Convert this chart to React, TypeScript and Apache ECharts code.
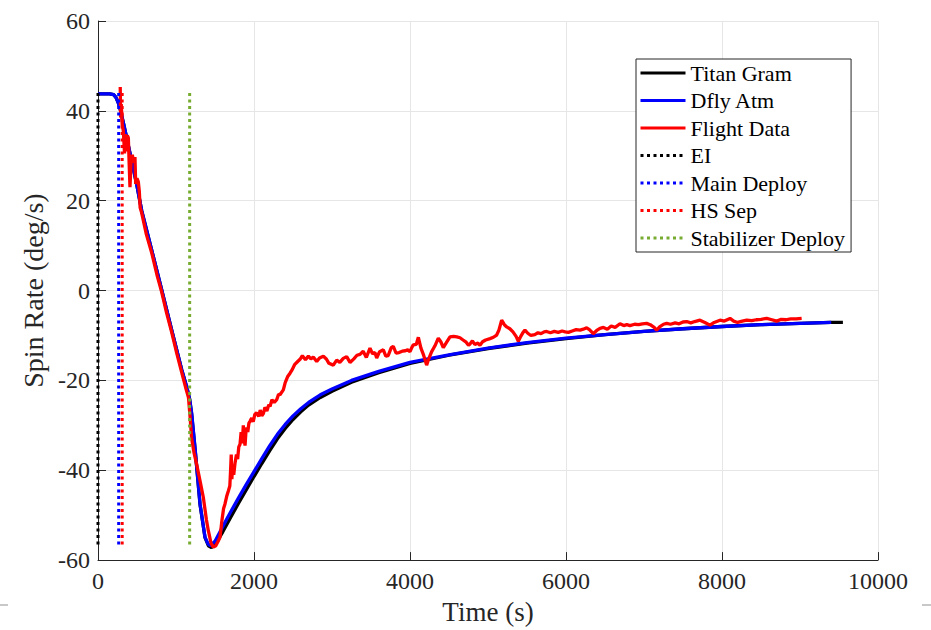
import React, { useEffect, useRef } from "react";
import * as echarts from "echarts";

const xTickLabels = [0, 2000, 4000, 6000, 8000, 10000];
const yTickLabels = [-60, -40, -20, 0, 20, 40, 60];

// Titan Gram (black)
const titanT = [0, 150, 200, 230, 260, 290, 330, 370, 430, 500, 560, 690, 816, 945, 1073, 1140, 1175, 1200, 1244, 1308, 1372, 1415, 1455, 1500, 1600, 1700, 1800, 1900, 2000, 2100, 2200, 2300, 2400, 2500, 2600, 2700, 2850, 3000, 3250, 3600, 4000, 4500, 5000, 5500, 6000, 6500, 7000, 7500, 8000, 8500, 9000, 9400, 9550];
const titanV = [43.8, 43.8, 43.6, 43, 41.8, 40, 37, 33.8, 29, 23.3, 17.8, 8.9, 0.2, -8.8, -17.6, -21.6, -24.2, -27.4, -35.2, -47.6, -55, -56.8, -57.2, -56.6, -53.7, -50.5, -47.4, -44.4, -41.4, -38.5, -35.7, -33, -30.7, -28.7, -27, -25.5, -23.8, -22.4, -20.4, -18.3, -16.2, -14.4, -12.9, -11.7, -10.7, -9.8, -9.1, -8.5, -8.0, -7.6, -7.3, -7.1, -7.1];

// Dfly Atm (blue)
const dflyT = [0, 150, 200, 230, 260, 290, 330, 370, 430, 500, 560, 690, 816, 945, 1073, 1140, 1175, 1200, 1244, 1308, 1372, 1410, 1440, 1500, 1600, 1700, 1800, 1900, 2000, 2100, 2200, 2300, 2400, 2500, 2600, 2700, 2850, 3000, 3250, 3600, 4000, 4500, 5000, 5500, 6000, 6500, 7000, 7500, 8000, 8500, 9000, 9400];
const dflyV = [43.8, 43.8, 43.6, 43, 41.8, 40, 37, 33.8, 29, 23.3, 17.8, 8.9, 0.2, -8.8, -17.6, -21.6, -24.2, -27.2, -35, -47.5, -54.9, -56.4, -56.8, -55.8, -52.5, -49.3, -46.2, -43.2, -40.3, -37.4, -34.6, -32, -29.8, -27.9, -26.3, -24.9, -23.2, -21.9, -20, -18, -16, -14.3, -12.8, -11.6, -10.6, -9.8, -9.1, -8.5, -8.0, -7.6, -7.3, -7.1];

// Flight Data (red)
const flightT = [285, 290, 298, 310, 325, 340, 350, 362, 375, 389, 400, 410, 425, 440, 458, 474, 483, 500, 517, 530, 540, 560, 620, 690, 760, 816, 880, 945, 1010, 1073, 1130, 1160, 1180, 1200, 1230, 1265, 1310, 1350, 1390, 1414, 1450, 1478, 1510, 1540, 1564, 1590, 1610, 1628, 1650, 1671, 1690, 1700, 1708, 1716, 1726, 1740, 1756, 1775, 1790, 1805, 1821, 1835, 1850, 1863, 1875, 1885, 1900, 1920, 1935, 1949, 1970, 1990, 2010, 2034, 2060, 2080, 2100, 2120, 2140, 2165, 2190, 2205, 2230, 2260, 2291, 2315, 2333, 2376, 2400, 2430, 2462, 2490, 2520, 2560, 2590, 2620, 2660, 2697, 2730, 2760, 2804, 2840, 2889, 2930, 2960, 3017, 3060, 3100, 3145, 3188, 3231, 3280, 3320, 3359, 3400, 3440, 3487, 3520, 3550, 3573, 3610, 3658, 3690, 3720, 3760, 3786, 3820, 3860, 3900, 3940, 3970, 4000, 4020, 4042, 4080, 4107, 4140, 4171, 4213, 4240, 4278, 4320, 4363, 4395, 4427, 4470, 4513, 4560, 4600, 4641, 4680, 4720, 4750, 4769, 4800, 4830, 4870, 4897, 4930, 4970, 5026, 5070, 5111, 5140, 5175, 5210, 5240, 5280, 5320, 5360, 5389, 5420, 5450, 5474, 5510, 5550, 5600, 5640, 5680, 5720, 5752, 5800, 5850, 5900, 5950, 5990, 6030, 6080, 6130, 6180, 6222, 6265, 6300, 6350, 6400, 6436, 6480, 6530, 6580, 6630, 6692, 6740, 6780, 6820, 6880, 6930, 6980, 7034, 7080, 7130, 7162, 7200, 7250, 7291, 7340, 7400, 7450, 7500, 7547, 7600, 7650, 7718, 7780, 7846, 7900, 7974, 8030, 8103, 8150, 8200, 8260, 8316, 8380, 8440, 8500, 8573, 8640, 8701, 8760, 8820, 8880, 8950, 9021];
const flightV = [45.3, 38.5, 41.5, 37, 35.5, 30.5, 34.8, 31, 34.5, 34, 28, 23, 29, 30.2, 28.5, 29.7, 23.7, 25, 24.2, 22, 18.5, 17.3, 12.5, 8.3, 3.2, -0.3, -5, -9.3, -14, -18.2, -22, -23.8, -28, -32.8, -36, -38.7, -42.5, -46, -51, -53.4, -56.3, -57.1, -56.8, -55.8, -54.9, -51, -48.5, -47.5, -45.8, -44.6, -43.5, -40, -36.5, -42, -39, -41, -38.5, -36.5, -37.5, -34.8, -34.2, -31.5, -34, -30, -33, -34.5, -30.5, -31.5, -29.5, -29.1, -28.4, -29.2, -27.6, -27.2, -28, -26.6, -27.9, -27.4, -26, -26.8, -25.4, -25.8, -24.3, -24.9, -24.3, -23.1, -23.2, -22.1, -20.5, -19.2, -18.4, -17.6, -16.5, -15.8, -15.3, -14.5, -15.4, -14.6, -15.2, -14.8, -15.8, -15, -14.6, -15.3, -16.2, -16.6, -15.5, -16, -15.1, -14.7, -16, -15.2, -14.4, -14.2, -13.5, -14.9, -12.8, -14.1, -13.8, -15, -13.6, -13.2, -14.6, -14.5, -12.7, -12.4, -13.9, -13.8, -13.5, -13.4, -13.2, -13.6, -12.8, -12.1, -12, -10.4, -12.8, -14.2, -16.6, -15.2, -13.6, -12.3, -10.6, -11.4, -12.7, -11.5, -10.3, -10.2, -10.3, -10.5, -11, -11.5, -12.2, -11.9, -11.2, -12, -11.7, -12.2, -11.4, -11, -10.7, -10.4, -9.9, -8.8, -6.6, -7.6, -8.1, -8.5, -9.2, -10.2, -11.3, -10.2, -9.3, -8.8, -9.5, -10, -9.8, -9.4, -9.6, -9.2, -9.1, -9.4, -9.1, -9.3, -9, -9.2, -9.3, -9, -8.7, -8.8, -8.6, -8.3, -8.7, -9.6, -8.8, -8.4, -8.2, -8.6, -7.9, -8.2, -7.4, -7.8, -7.6, -7.8, -7.5, -7.6, -7.4, -7.3, -7.6, -8.2, -8.8, -8.1, -7.5, -7.3, -7.5, -7.2, -7.4, -7, -6.9, -7.2, -6.9, -6.6, -7.1, -7.7, -7.1, -6.6, -6.8, -6.2, -6.8, -7.1, -6.8, -6.6, -6.7, -6.5, -6.4, -6.2, -6.5, -6.8, -6.4, -6.5, -6.3, -6.3, -6.2];

// Event markers
const eventNames = ["EI", "Main Deploy", "HS Sep", "Stabilizer Deploy"];
const eventTimes = [0, 265, 310, 1175];
const eventColors = ["#000000", "#0000ff", "#ff0000", "#77ac30"];
const eventTop = 44;
const eventBottom = -56.8;

const FONT = "'Liberation Serif', 'DejaVu Serif', serif";

function zip(t: number[], v: number[]) {
  return t.map((x, i) => [x, v[i]]);
}

export default function App() {
  const ref = useRef<HTMLDivElement>(null);
  useEffect(() => {
    if (!ref.current) return;
    const chart = echarts.init(ref.current, null, { renderer: "svg" });
    const solid = (name: string, t: number[], v: number[], color: string) => ({
      name,
      type: "line",
      data: zip(t, v),
      symbol: "none",
      showSymbol: false,
      lineStyle: { color, width: 3.3 },
      itemStyle: { color, opacity: 0 },
      emphasis: { disabled: true },
    });
    const events = eventNames.map((name, i) => ({
      name,
      type: "line",
      data: [
        [eventTimes[i], eventTop],
        [eventTimes[i], eventBottom],
      ],
      symbol: "none",
      showSymbol: false,
      lineStyle: { color: eventColors[i], width: 3, type: [3, 3.5], cap: "butt" },
      itemStyle: { color: eventColors[i], opacity: 0 },
      emphasis: { disabled: true },
    }));
    chart.setOption({
      animation: false,
      backgroundColor: "#ffffff",
      grid: { left: 98, right: 53, top: 21, bottom: 67, containLabel: false },
      xAxis: {
        type: "value",
        min: 0,
        max: 10000,
        interval: 2000,
        name: "Time (s)",
        nameLocation: "middle",
        nameGap: 34,
        nameTextStyle: { fontFamily: FONT, fontSize: 27, color: "#262626" },
        axisLine: { show: true, onZero: false, lineStyle: { color: "#262626", width: 1 } },
        axisTick: { show: true, inside: true, length: 8, lineStyle: { color: "#262626" } },
        axisLabel: {
          fontFamily: FONT,
          fontSize: 24,
          color: "#262626",
          margin: 9,
          formatter: (v: number) => String(v),
        },
        splitLine: { show: true, lineStyle: { color: "#e6e6e6", width: 1 } },
      },
      yAxis: {
        type: "value",
        min: -60,
        max: 60,
        interval: 20,
        name: "Spin Rate (deg/s)",
        nameLocation: "middle",
        nameGap: 48,
        nameTextStyle: { fontFamily: FONT, fontSize: 28, color: "#262626" },
        axisLine: { show: true, onZero: false, lineStyle: { color: "#262626", width: 1 } },
        axisTick: { show: true, inside: true, length: 8, lineStyle: { color: "#262626" } },
        axisLabel: {
          fontFamily: FONT,
          fontSize: 24,
          color: "#262626",
          margin: 8,
          formatter: (v: number) => String(v),
        },
        splitLine: { show: true, lineStyle: { color: "#e6e6e6", width: 1 } },
      },
      legend: {
        show: true,
        orient: "vertical",
        left: 636,
        top: 59,
        itemWidth: 45,
        itemHeight: 14,
        itemGap: 5.5,
        padding: [3, 6, 3, 3],
        borderColor: "#262626",
        borderWidth: 1,
        backgroundColor: "#ffffff",
        selectedMode: false,
        lineStyle: { width: 3 },
        textStyle: { fontFamily: FONT, fontSize: 22, color: "#000000", lineHeight: 22 },
        data: ["Titan Gram", "Dfly Atm", "Flight Data", ...eventNames],
      },
      graphic: [
        { type: "line", shape: { x1: 0, y1: 605, x2: 8, y2: 605 }, style: { stroke: "#c8c8c8", lineWidth: 2 } },
        { type: "line", shape: { x1: 922, y1: 605, x2: 931, y2: 605 }, style: { stroke: "#c8c8c8", lineWidth: 2 } },
      ],
      series: [
        solid("Titan Gram", titanT, titanV, "#000000"),
        solid("Dfly Atm", dflyT, dflyV, "#0000ff"),
        solid("Flight Data", flightT, flightV, "#ff0000"),
        ...events,
      ],
    });
    return () => chart.dispose();
  }, []);
  return (
    <div
      ref={ref}
      style={{ position: "fixed", left: 0, top: 0, width: 931, height: 630, background: "#fff" }}
    />
  );
}
